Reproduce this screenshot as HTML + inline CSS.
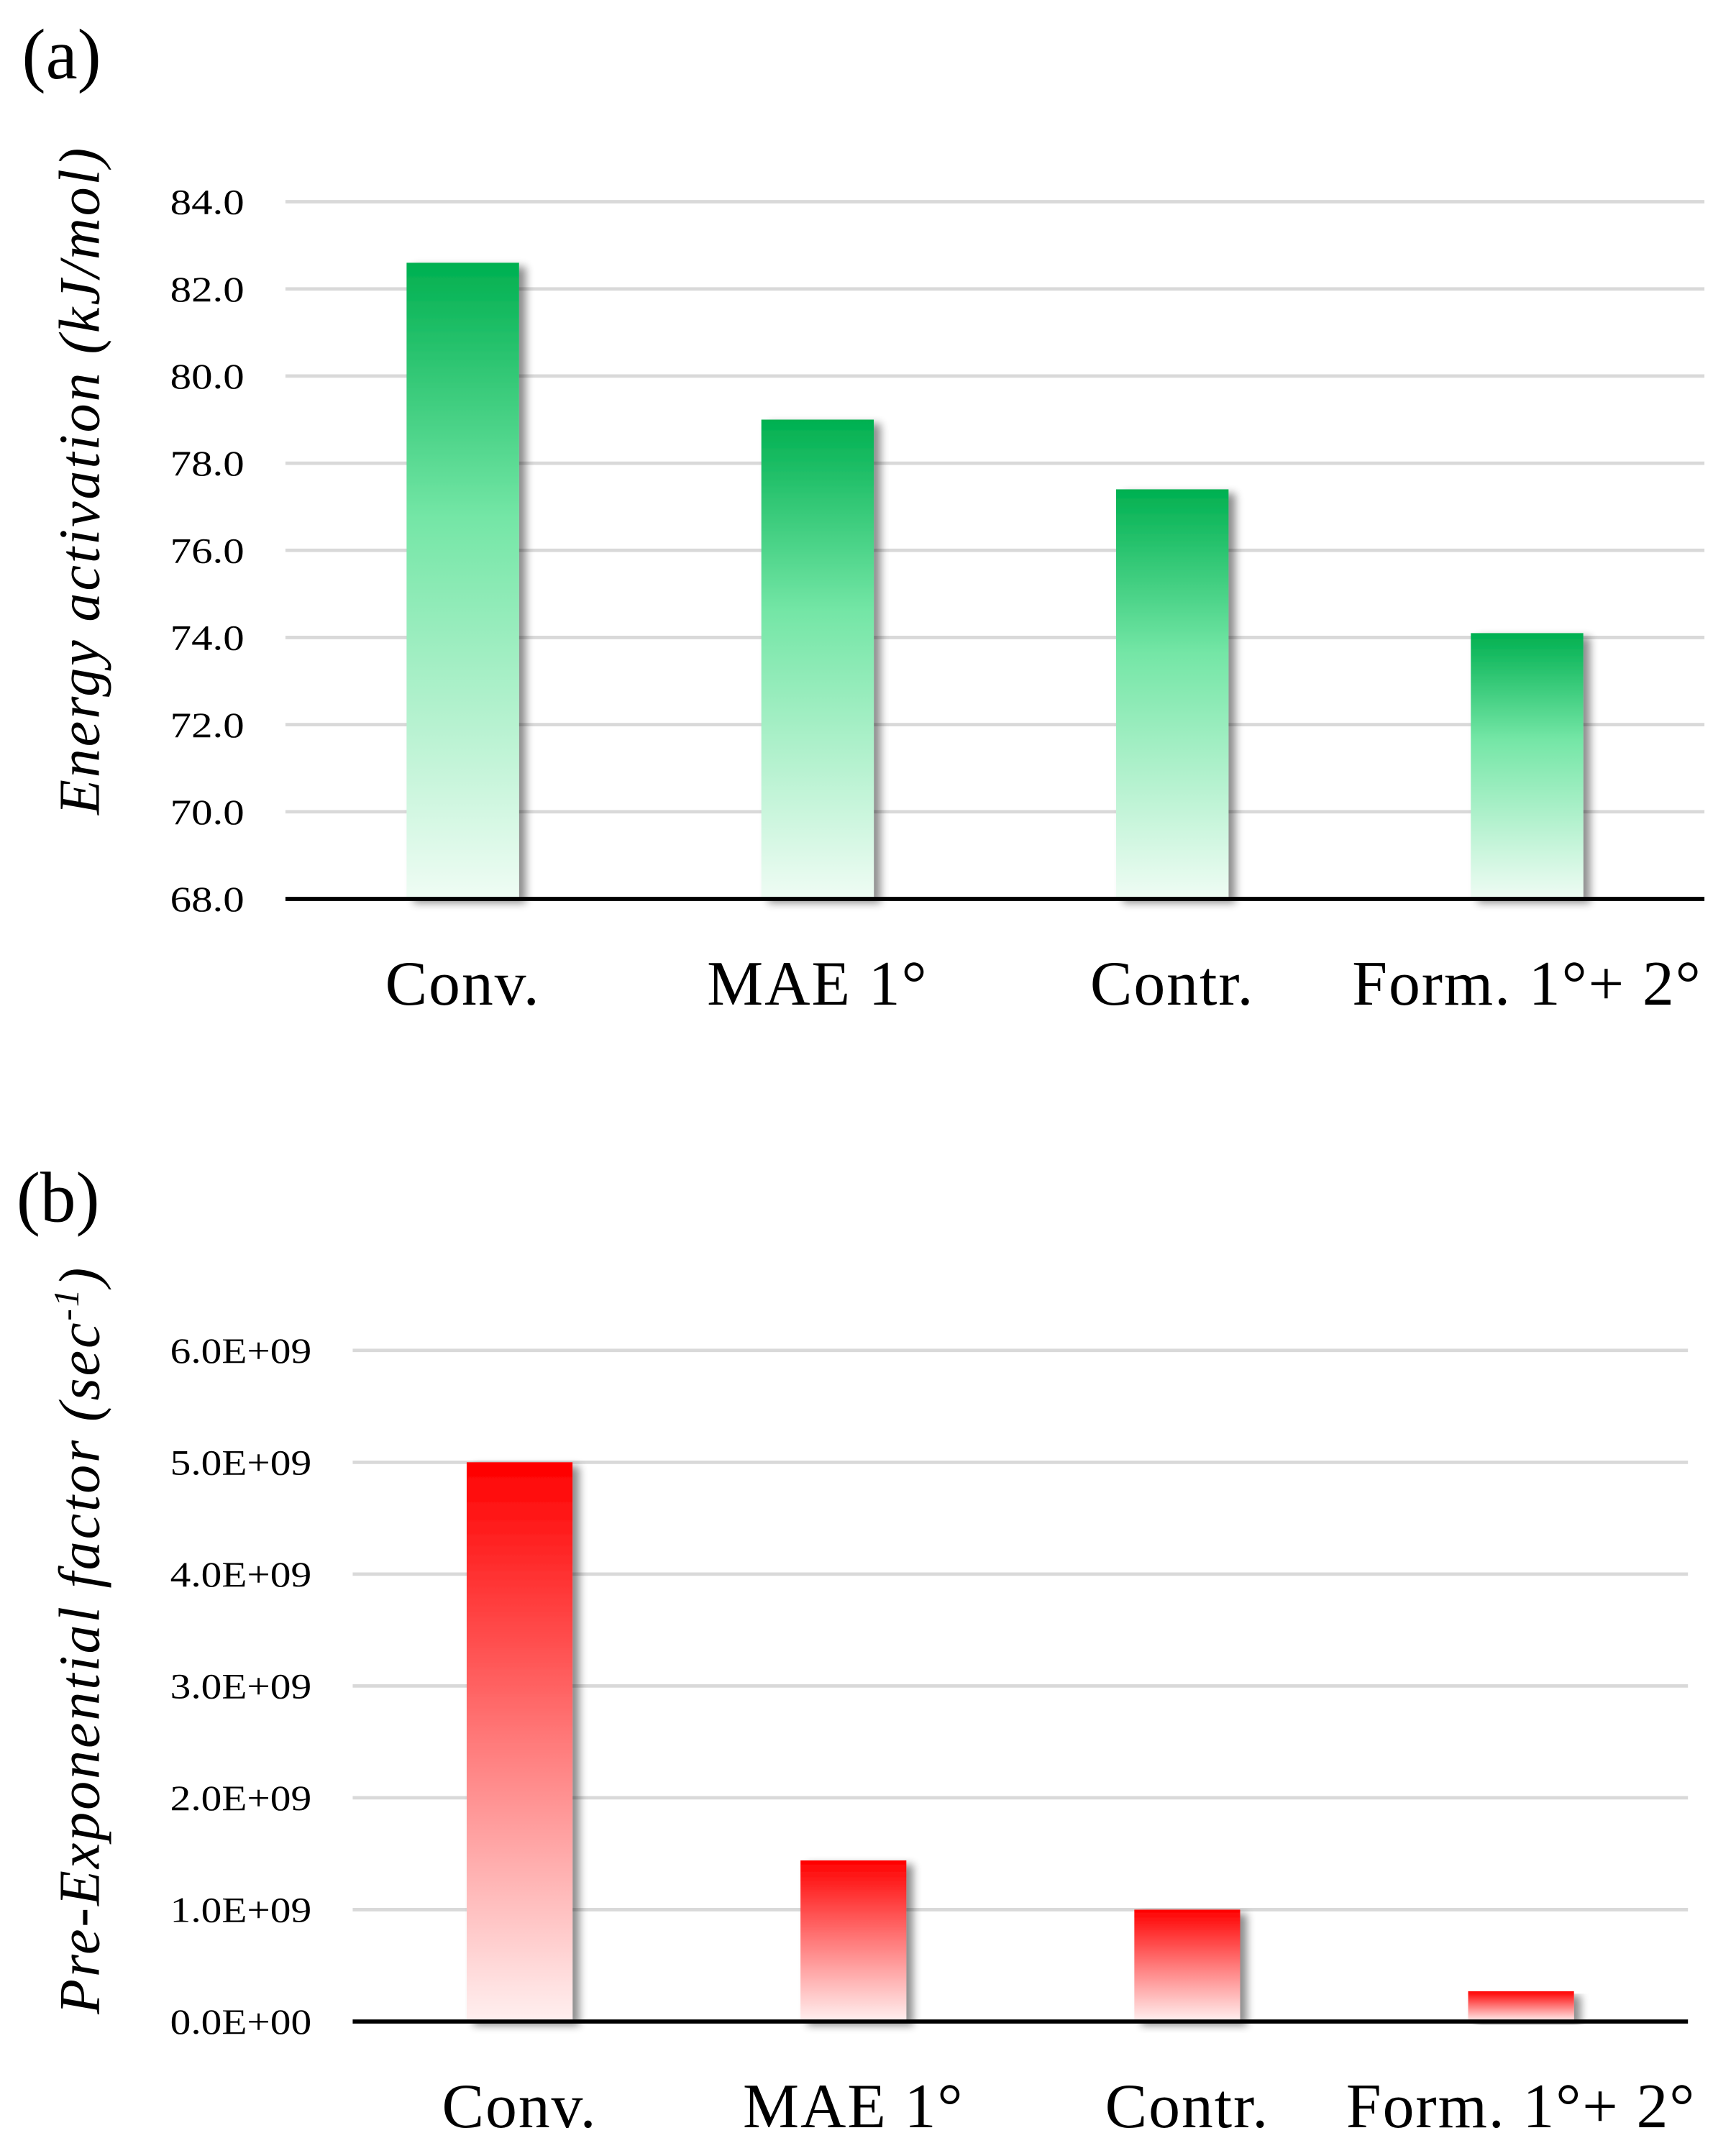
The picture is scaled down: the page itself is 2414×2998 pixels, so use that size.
<!DOCTYPE html>
<html><head><meta charset="utf-8"><style>
html,body{margin:0;padding:0;background:#fff}
svg{display:block}
text{font-family:"Liberation Serif",serif;fill:#000}
</style></head><body>
<svg id="fig" width="2414" height="2998" viewBox="0 0 1265 1571" xmlns="http://www.w3.org/2000/svg">
<defs>
<linearGradient id="gGreen" x1="0" y1="0" x2="0" y2="1">
<stop offset="0" stop-color="#00b050"/><stop offset="0.4" stop-color="#74e6a6"/><stop offset="1" stop-color="#effcf4"/></linearGradient>
<linearGradient id="gRed" x1="0" y1="0" x2="0" y2="1">
<stop offset="0" stop-color="#ff0000"/><stop offset="0.5" stop-color="#ff7a7a"/><stop offset="1" stop-color="#fff0f0"/></linearGradient>
<filter id="shadow" x="-20%" y="-5%" width="160%" height="115%">
<feGaussianBlur in="SourceAlpha" stdDeviation="3"/><feOffset dx="5" dy="3" result="b"/>
<feComponentTransfer><feFuncA type="linear" slope="0.45"/></feComponentTransfer>
<feMerge><feMergeNode/><feMergeNode in="SourceGraphic"/></feMerge></filter>
</defs>
<text x="16" y="57" font-size="52">(a)</text>
<text x="12" y="890" font-size="52">(b)</text>
<text transform="translate(72,350) rotate(-90)" text-anchor="middle" font-size="42" letter-spacing="1.5" font-style="italic">Energy activation (kJ/mol)</text>
<text transform="translate(72,1195) rotate(-90)" text-anchor="middle" font-size="42" letter-spacing="1.5" font-style="italic">Pre-Exponential factor (sec<tspan font-size="26" dy="-15">-1</tspan><tspan dy="15">)</tspan></text>
<g id="chartA"></g>
<g id="chartB"></g>
</svg>
<script>
const categories = ["Conv.", "MAE 1°", "Contr.", "Form. 1°+ 2°"];
const energyValues = [82.6, 79.0, 77.4, 74.1];
const energyTicks = ["68.0","70.0","72.0","74.0","76.0","78.0","80.0","82.0","84.0"];
const preExpValues = [5.0e9, 1.44e9, 1.0e9, 0.27e9];
const preExpTicks = ["0.0E+00","1.0E+09","2.0E+09","3.0E+09","4.0E+09","5.0E+09","6.0E+09"];

const NS = "http://www.w3.org/2000/svg";
function mk(tag, attrs, parent){const e=document.createElementNS(NS,tag);for(const k in attrs)e.setAttribute(k,attrs[k]);parent.appendChild(e);return e;}

function drawChart(g, cfg){
  const {left,right,top,bottom,min,max,ticks,tickVals,values,grad,labelY,tickEnd,key}=cfg;
  const y=v=>bottom-(v-min)/(max-min)*(bottom-top);
  const band=(right-left)/categories.length;
  const x=i=>left+band*(i+0.5);
  tickVals.forEach((tv,i)=>{
    if(i>0){const l=mk("line",{x1:left,x2:right,y1:y(tv),y2:y(tv),stroke:"#d9d9d9","stroke-width":2.5},g);
      
      }
    const t=mk("text",{x:tickEnd,y:y(tv)+9,"text-anchor":"end","font-size":26,"textLength":tickEnd- (cfg.tickStart),"lengthAdjust":"spacingAndGlyphs"},g);
    t.textContent=ticks[i];
    
    
  });
  const bw=band*0.317;
  values.forEach((v,i)=>{
    const r=mk("rect",{x:x(i)-bw/2,y:y(v),width:bw,height:bottom-y(v),fill:grad,filter:"url(#shadow)"},g);
    
    
    const t=mk("text",{x:x(i),y:labelY,"text-anchor":"middle","font-size":46,"letter-spacing":1},g);
    t.textContent=categories[i];
    
    
  });
  const ax=mk("line",{x1:left,x2:right,y1:bottom,y2:bottom,stroke:"#000","stroke-width":3},g);
  
  
}
drawChart(document.getElementById("chartA"),{left:208,right:1242,top:147,bottom:655,min:68,max:84,
  ticks:energyTicks,tickVals:energyTicks.map(Number),values:energyValues,grad:"url(#gGreen)",labelY:732,tickEnd:178,tickStart:124,key:"a"});
drawChart(document.getElementById("chartB"),{left:257,right:1230,top:984,bottom:1473,min:0,max:6e9,
  ticks:preExpTicks,tickVals:preExpTicks.map(Number),values:preExpValues,grad:"url(#gRed)",labelY:1550,tickEnd:227,tickStart:124,key:"b"});
</script>
</body></html>
